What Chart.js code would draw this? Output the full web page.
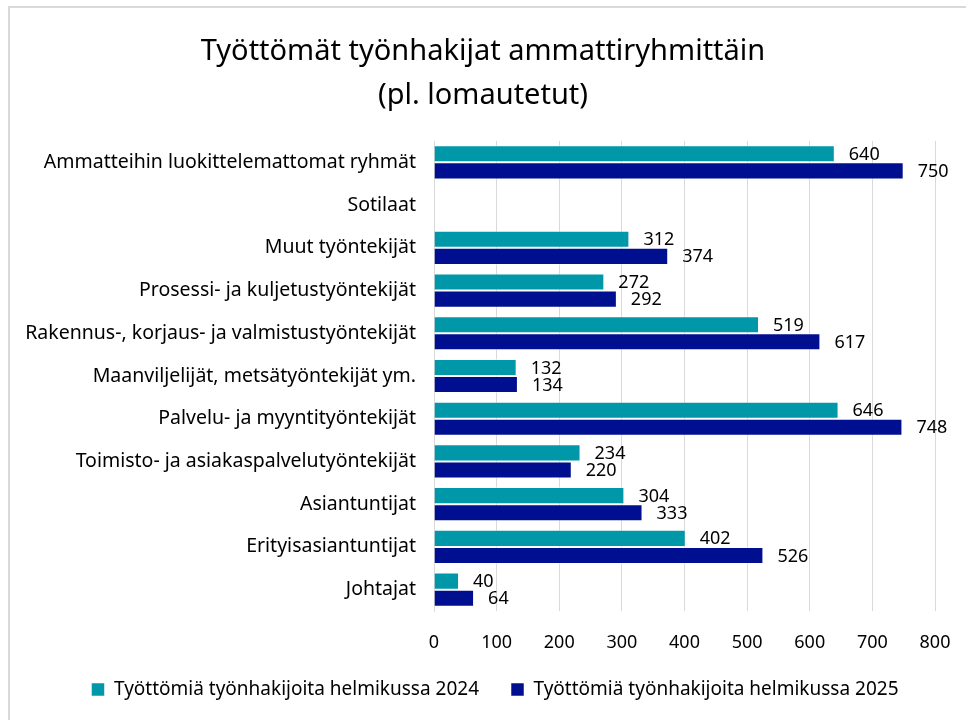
<!DOCTYPE html>
<html>
<head>
<meta charset="utf-8">
<script src="https://cdn.jsdelivr.net/npm/chart.js@4"></script>
<style>
  html, body { margin: 0; padding: 0; background: #fff; }
  #wrap { width: 966px; height: 720px; }
</style>
</head>
<body>
<div id="wrap"><canvas id="chart" width="966" height="720"></canvas></div>
<script>
// categories, top to bottom
const categories = [
  'Ammatteihin luokittelemattomat ryhmät',
  'Sotilaat',
  'Muut työntekijät',
  'Prosessi- ja kuljetustyöntekijät',
  'Rakennus-, korjaus- ja valmistustyöntekijät',
  'Maanviljelijät, metsätyöntekijät ym.',
  'Palvelu- ja myyntityöntekijät',
  'Toimisto- ja asiakaspalvelutyöntekijät',
  'Asiantuntijat',
  'Erityisasiantuntijat',
  'Johtajat'
];

const feb2024 = [640, null, 312, 272, 519, 132, 646, 234, 304, 402, 40];
const feb2025 = [750, null, 374, 292, 617, 134, 748, 220, 333, 526, 64];

const seriesNames = [
  'Työttömiä työnhakijoita helmikussa 2024',
  'Työttömiä työnhakijoita helmikussa 2025'
];

const titleLines = ['Työttömät työnhakijat ammattiryhmittäin', '(pl. lomautetut)'];

const FONT = 'Noto Sans';
const TEAL = '#0097a9';
const NAVY = '#000f8f';
const GRID = '#d9d9d9';

// value labels next to bar ends
const valueLabels = {
  id: 'valueLabels',
  afterDatasetsDraw(chart) {
    const ctx = chart.ctx;
    ctx.save();
    ctx.font = `18px "${FONT}"`;
    ctx.fillStyle = '#000';
    ctx.textAlign = 'left';
    ctx.textBaseline = 'middle';
    chart.data.datasets.forEach((ds, i) => {
      chart.getDatasetMeta(i).data.forEach((bar, j) => {
        const v = ds.data[j];
        if (v == null) return;
        ctx.fillText(String(v), bar.x + 14, bar.y + 1);
      });
    });
    ctx.restore();
  }
};

// thin frame round the chart, like the office export
const frame = {
  id: 'frame',
  beforeDraw(chart) {
    const ctx = chart.ctx;
    ctx.save();
    ctx.strokeStyle = GRID;
    ctx.lineWidth = 2;
    ctx.beginPath();
    ctx.moveTo(9, chart.height);
    ctx.lineTo(9, 7);
    ctx.lineTo(chart.width, 7);
    ctx.stroke();
    ctx.restore();
  }
};

// title and legend sit a bit right of the canvas centre in the original
const boxShift = {
  id: 'boxShift',
  afterLayout(chart) {
    chart.titleBlock.left += 11;
    chart.titleBlock.right += 11;
    chart.legend.left += 23;
    chart.legend.right += 23;
  }
};

new Chart(document.getElementById('chart'), {
  type: 'bar',
  data: {
    labels: categories,
    datasets: [
      {
        label: seriesNames[0],
        data: feb2024,
        backgroundColor: TEAL,
        borderColor: 'rgba(255,255,255,0.5)',
        borderWidth: 1
      },
      {
        label: seriesNames[1],
        data: feb2025,
        backgroundColor: NAVY,
        borderColor: 'rgba(255,255,255,0.5)',
        borderWidth: 1
      }
    ]
  },
  options: {
    indexAxis: 'y',
    responsive: false,
    animation: false,
    devicePixelRatio: 1,
    categoryPercentage: 0.8,
    barPercentage: 1.0,
    layout: { padding: { left: 9, right: 31, top: 0, bottom: 11 } },
    scales: {
      x: {
        min: 0,
        max: 800,
        ticks: {
          stepSize: 100,
          padding: 21,
          color: '#000',
          font: { family: FONT, size: 18 }
        },
        grid: { color: GRID, lineWidth: 1, drawTicks: false },
        border: { display: false },
        afterFit(scale) {
          scale.height = 37;
          scale.paddingLeft = 0;
          scale.paddingRight = 0;
        }
      },
      y: {
        ticks: {
          padding: 18,
          color: '#000',
          font: { family: FONT, size: 19.5 }
        },
        grid: { display: false, drawTicks: false },
        border: { display: true, color: GRID },
        afterFit(scale) { scale.width = 425; }
      }
    },
    plugins: {
      title: {
        display: true,
        text: titleLines,
        color: '#000',
        font: { family: FONT, size: 29, weight: 'normal', lineHeight: 1.5 },
        padding: { top: 30, bottom: 24 }
      },
      legend: {
        position: 'bottom',
        labels: {
          boxWidth: 13,
          boxHeight: 13,
          padding: 32,
          color: '#000',
          font: { family: FONT, size: 19 }
        }
      },
      tooltip: { enabled: false }
    }
  },
  plugins: [valueLabels, frame, boxShift]
});
</script>
</body>
</html>
